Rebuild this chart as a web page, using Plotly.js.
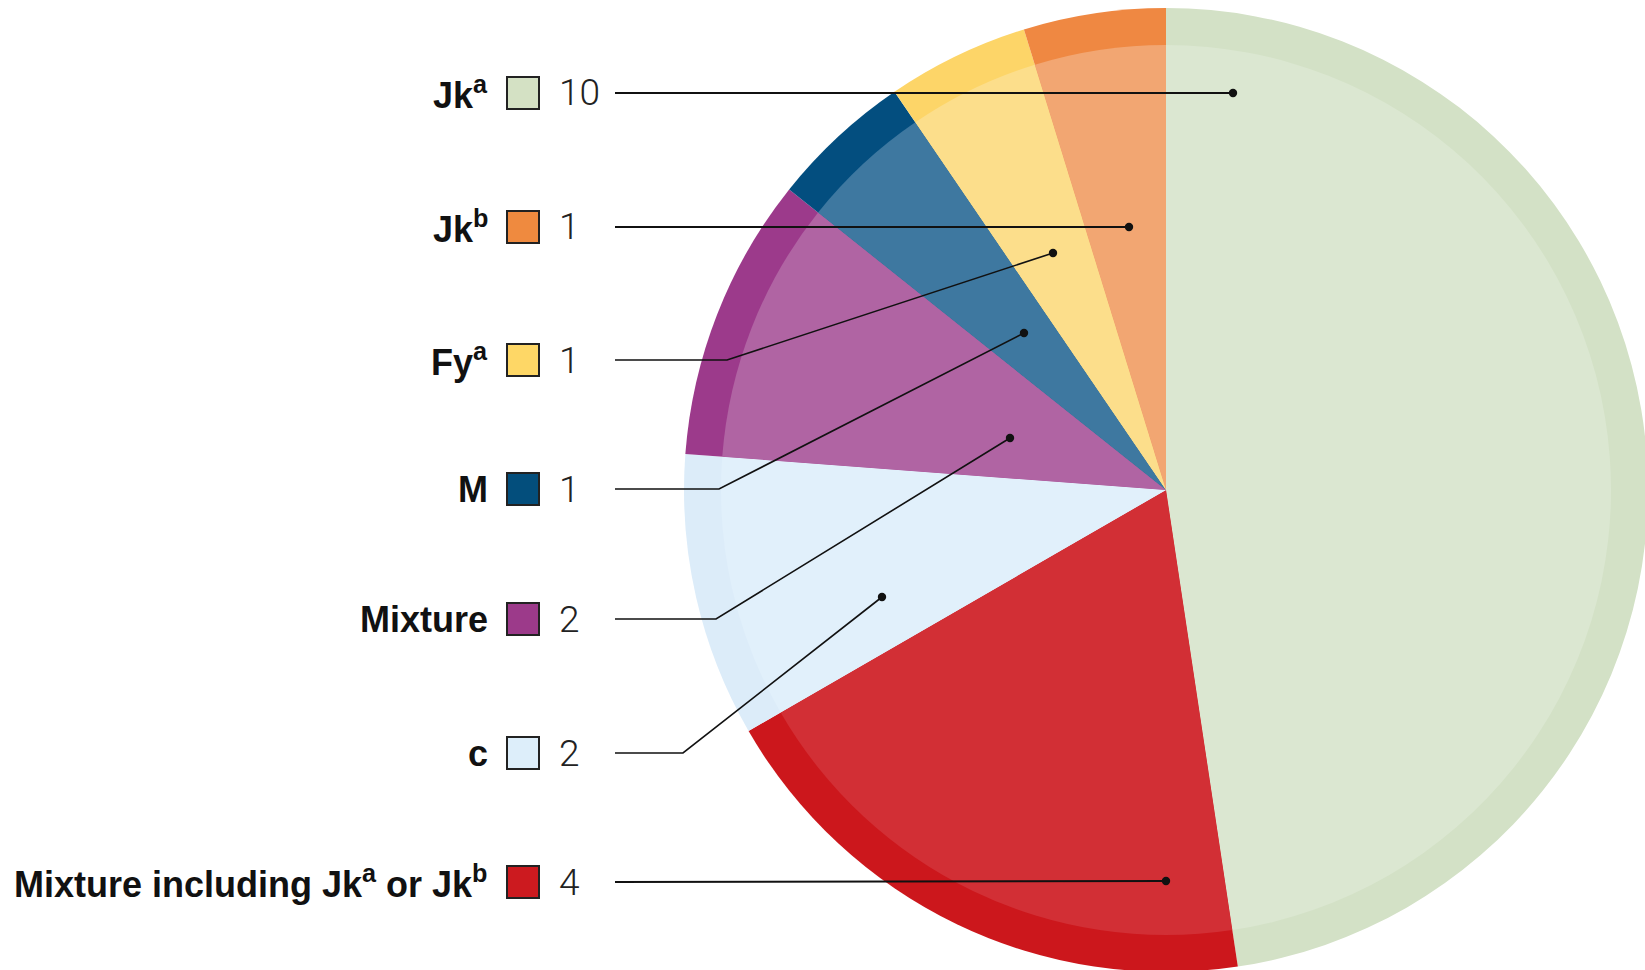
<!DOCTYPE html>
<html><head><meta charset="utf-8">
<script src="https://cdn.plot.ly/plotly-3.0.1.min.js"></script>
<style>html,body{margin:0;padding:0;overflow:hidden;background:#fff}#chart{width:1648px;height:972px}</style>
</head><body><div id="chart"></div>
<script>
// Data (clockwise from 12 o'clock)
const categories = ['Jk<sup>a</sup>', 'Mixture including Jk<sup>a</sup> or Jk<sup>b</sup>', 'c', 'Mixture', 'M', 'Fy<sup>a</sup>', 'Jk<sup>b</sup>'];
const values = [10, 4, 2, 2, 1, 1, 1];
const rimColors = ['#d3e1c6', '#cc171c', '#dcecf9', '#9c3a8b', '#034e7f', '#fdd568', '#ef8842'];
const innerColors = ['#dbe7d1', '#d22f35', '#e1f0fb', '#b064a3', '#3e78a0', '#fcde8b', '#f2a672'];
const swatchColors = ['#d4e1c4', '#cc1a1f', '#ddeefa', '#9c3a8a', '#034e7c', '#fed766', '#ef8a3f'];
// Legend rows top to bottom (indices into categories)
const legendOrder = [0, 6, 5, 4, 3, 2, 1];

// Layout geometry (pixels)
const W = 1648, H = 972;
const cx = 1166, cy = 490, R = 482, Rin = 445;
const rowY = [93, 227, 360, 489, 619, 753, 882];
const labelRight = 490, swatchX0 = 507, swatchX1 = 539, valueX = 557, lineX0 = 615;
// leader lines: [elbowX or null, dotX, dotY] per legend row
const leaders = [
  [null, 1233, 93],
  [null, 1129, 227],
  [727, 1053, 253],
  [719, 1024, 333],
  [716, 1010, 438],
  [683, 882, 597],
  [null, 1166, 881]
];

const px = x => x / W;
const py = y => 1 - y / H;

function dom(r) {
  return {x: [Math.max(0, px(cx - r)), Math.min(1, px(cx + r))],
          y: [Math.max(0, py(cy + r)), Math.min(1, py(cy - r))]};
}

const base = {type: 'pie', labels: categories, values: values, sort: false,
  direction: 'clockwise', rotation: 0, textinfo: 'none', hoverinfo: 'label+value', showlegend: false};

const traces = [
  Object.assign({}, base, {domain: dom(R), marker: {colors: rimColors, line: {width: 0}}}),
  Object.assign({}, base, {domain: dom(Rin), marker: {colors: innerColors, line: {width: 0}}})
];

const annotations = [];
const shapes = [];
legendOrder.forEach((ci, row) => {
  const y = rowY[row];
  annotations.push({xref: 'paper', yref: 'paper', x: px(labelRight), y: py(y), xanchor: 'right', yanchor: 'middle',
    text: categories[ci], showarrow: false,
    font: {family: 'Liberation Sans, Arial, sans-serif', size: 36, weight: 'bold', color: '#111'}});
  annotations.push({xref: 'paper', yref: 'paper', x: px(valueX), y: py(y), xanchor: 'left', yanchor: 'middle',
    text: String(values[ci]), showarrow: false,
    font: {family: 'Roboto, Lato, sans-serif', size: 37, weight: 300, color: '#222'}});
  shapes.push({type: 'rect', xref: 'paper', yref: 'paper', x0: px(swatchX0), x1: px(swatchX1),
    y0: py(y - 16), y1: py(y + 16), fillcolor: swatchColors[ci], line: {color: '#222', width: 2}});
  const [ex, dx, dy] = leaders[row];
  let path;
  if (ex === null) {
    path = `M ${px(lineX0)},${py(y)} L ${px(dx)},${py(dy)}`;
  } else {
    path = `M ${px(lineX0)},${py(y)} L ${px(ex)},${py(y)} L ${px(dx)},${py(dy)}`;
  }
  shapes.push({type: 'path', xref: 'paper', yref: 'paper', path: path, line: {color: '#111', width: ex === null ? 2.2 : 1.6}});
  const r = 4.2;
  shapes.push({type: 'circle', xref: 'paper', yref: 'paper', x0: px(dx - r), x1: px(dx + r), y0: py(dy + r), y1: py(dy - r),
    fillcolor: '#111', line: {color: '#111', width: 0}});
});

Plotly.newPlot('chart', traces, {
  width: W, height: H, margin: {l: 0, r: 0, t: 0, b: 0},
  paper_bgcolor: '#fff', plot_bgcolor: '#fff',
  annotations: annotations, shapes: shapes
}, {displayModeBar: false, staticPlot: true});
</script>
</body></html>
